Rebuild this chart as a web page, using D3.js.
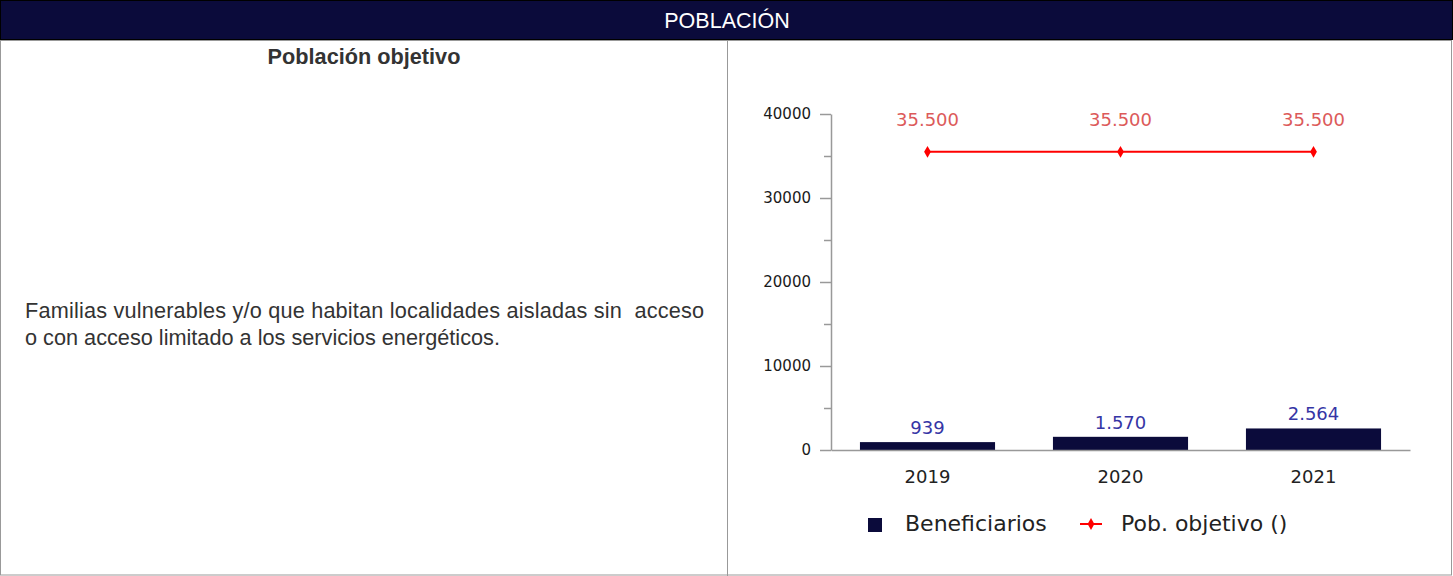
<!DOCTYPE html>
<html>
<head>
<meta charset="utf-8">
<script src="https://cdn.jsdelivr.net/npm/d3@7"></script>
<style>
  body { margin: 0; background: #fff; }
  svg { display: block; }
</style>
</head>
<body>
<div id="page"></div>
<script>
var width = 1453;
var height = 576;

// data
var years = ["2019", "2020", "2021"];
var beneficiarios = [939, 1570, 2564];
var pobObjetivo = [35500, 35500, 35500];
var yTicks = [0, 10000, 20000, 30000, 40000];
var yMinorTicks = [5000, 15000, 25000, 35000];
var headerTitle = "POBLACIÓN";
var cellTitle = "Población objetivo";
var cellText = ["Familias vulnerables y/o que habitan localidades aisladas sin  acceso",
                "o con acceso limitado a los servicios energéticos."];
var legendLabels = ["Beneficiarios", "Pob. objetivo ()"];

var navy = "#0b0b3b";
var esLocale = d3.formatLocale({decimal: ",", thousands: ".", grouping: [3], currency: ["", ""]});
var fmt = esLocale.format(",");

var svg = d3.select("#page")
            .append("svg")
            .attr("width", width)
            .attr("height", height);

//header band
svg.append("rect")
   .attr("x", 0.5).attr("y", 0.5)
   .attr("width", width - 1).attr("height", 39)
   .attr("fill", navy)
   .attr("stroke", "#000")
   .attr("stroke-width", 1);
svg.append("text")
   .text(headerTitle)
   .attr("x", 727)
   .attr("y", 28)
   .attr("text-anchor", "middle")
   .attr("fill", "#fff")
   .style("font-family", "'Liberation Sans', Arial, sans-serif")
   .style("font-size", "21.5px");

//table cells
svg.append("rect")
   .attr("x", 0.5).attr("y", 40.5)
   .attr("width", 1451).attr("height", 534.5)
   .attr("fill", "none")
   .attr("stroke", "#999")
   .attr("stroke-width", 1);
svg.append("line")
   .attr("x1", 727.5).attr("y1", 40)
   .attr("x2", 727.5).attr("y2", 576)
   .attr("stroke", "#999")
   .attr("stroke-width", 1);

//left cell text
svg.append("text")
   .text(cellTitle)
   .attr("x", 364)
   .attr("y", 64)
   .attr("text-anchor", "middle")
   .attr("fill", "#333")
   .style("font-family", "'Liberation Sans', Arial, sans-serif")
   .style("font-weight", "bold")
   .style("font-size", "21.7px");
svg.selectAll(".para")
   .data(cellText)
   .enter().append("text")
   .attr("class", "para")
   .attr("x", 25)
   .attr("y", function(d, i) { return 318 + i * 27; })
   .attr("fill", "#333")
   .attr("textLength", function(d, i) { return i === 0 ? 679 : null; })
   .attr("lengthAdjust", "spacing")
   .style("font-family", "'Liberation Sans', Arial, sans-serif")
   .style("font-size", "21.7px")
   .style("white-space", "pre")
   .text(function(d) { return d; });

//chart
var x = d3.scaleBand()
          .domain(years)
          .range([831, 1410])
          .paddingInner(0.3)
          .paddingOuter(0.15);
var y = d3.scaleLinear()
          .domain([0, 40000])
          .range([450, 114]);

var chartFont = "'DejaVu Sans', Verdana, sans-serif";

//y axis major
var yAxis = svg.append("g")
   .attr("transform", "translate(831,0)")
   .call(d3.axisLeft(y).tickValues(yTicks).tickSize(11).tickSizeOuter(0).tickPadding(9).tickFormat(d3.format("d")));
yAxis.selectAll("path, line").attr("stroke", "#999").attr("stroke-width", 1.5);
yAxis.selectAll("text").attr("fill", "#1a1a1a").style("font-family", chartFont).style("font-size", "15px");
//y axis minor
var yMinor = svg.append("g")
   .attr("transform", "translate(831,0)")
   .call(d3.axisLeft(y).tickValues(yMinorTicks).tickSize(7).tickSizeOuter(0).tickFormat(""));
yMinor.select(".domain").remove();
yMinor.selectAll("line").attr("stroke", "#999").attr("stroke-width", 1.5);

//bars
svg.selectAll(".bar")
   .data(beneficiarios)
   .enter().append("rect")
   .attr("class", "bar")
   .attr("x", function(d, i) { return x(years[i]); })
   .attr("y", function(d) { return y(d); })
   .attr("width", x.bandwidth())
   .attr("height", function(d) { return y(0) - y(d); })
   .attr("fill", navy);

//x axis
var xAxis = svg.append("g")
   .attr("transform", "translate(0," + y(0) + ")")
   .call(d3.axisBottom(x).tickSize(0).tickPadding(20));
xAxis.select(".domain").attr("stroke", "#999").attr("stroke-width", 1.5);
xAxis.selectAll("text").attr("fill", "#222").style("font-family", chartFont).style("font-size", "18px");

//bar labels
svg.selectAll(".blabel")
   .data(beneficiarios)
   .enter().append("text")
   .attr("class", "blabel")
   .attr("x", function(d, i) { return x(years[i]) + x.bandwidth() / 2; })
   .attr("y", function(d) { return y(d) - 8; })
   .attr("text-anchor", "middle")
   .attr("fill", "#3535a5")
   .style("font-family", chartFont)
   .style("font-size", "18px")
   .text(function(d) { return fmt(d); });

//line
var line = d3.line()
   .x(function(d, i) { return x(years[i]) + x.bandwidth() / 2; })
   .y(function(d) { return y(d); });
svg.append("path")
   .datum(pobObjetivo)
   .attr("d", line)
   .attr("fill", "none")
   .attr("stroke", "#ff0000")
   .attr("stroke-width", 2);
svg.selectAll(".marker")
   .data(pobObjetivo)
   .enter().append("path")
   .attr("class", "marker")
   .attr("transform", function(d, i) { return "translate(" + (x(years[i]) + x.bandwidth() / 2) + "," + y(d) + ")"; })
   .attr("d", d3.symbol().type(d3.symbolDiamond).size(40))
   .attr("fill", "#ff0000");
svg.selectAll(".llabel")
   .data(pobObjetivo)
   .enter().append("text")
   .attr("class", "llabel")
   .attr("x", function(d, i) { return x(years[i]) + x.bandwidth() / 2; })
   .attr("y", function(d) { return y(d) - 26; })
   .attr("text-anchor", "middle")
   .attr("fill", "#dc5a5a")
   .style("font-family", chartFont)
   .style("font-size", "18px")
   .text(function(d) { return fmt(d); });

//legend
var legend = svg.append("g").attr("transform", "translate(868,518)");
legend.append("rect")
   .attr("x", 0).attr("y", 0)
   .attr("width", 14).attr("height", 14)
   .attr("fill", navy);
legend.append("text")
   .text(legendLabels[0])
   .attr("x", 37).attr("y", 13)
   .attr("fill", "#222")
   .style("font-family", chartFont)
   .style("font-size", "22px");
legend.append("line")
   .attr("x1", 212).attr("y1", 6)
   .attr("x2", 234).attr("y2", 6)
   .attr("stroke", "#ff0000")
   .attr("stroke-width", 2);
legend.append("path")
   .attr("transform", "translate(223,6)")
   .attr("d", d3.symbol().type(d3.symbolDiamond).size(40))
   .attr("fill", "#ff0000");
legend.append("text")
   .text(legendLabels[1])
   .attr("x", 253).attr("y", 13)
   .attr("fill", "#222")
   .style("font-family", chartFont)
   .style("font-size", "22px");
</script>
</body>
</html>
